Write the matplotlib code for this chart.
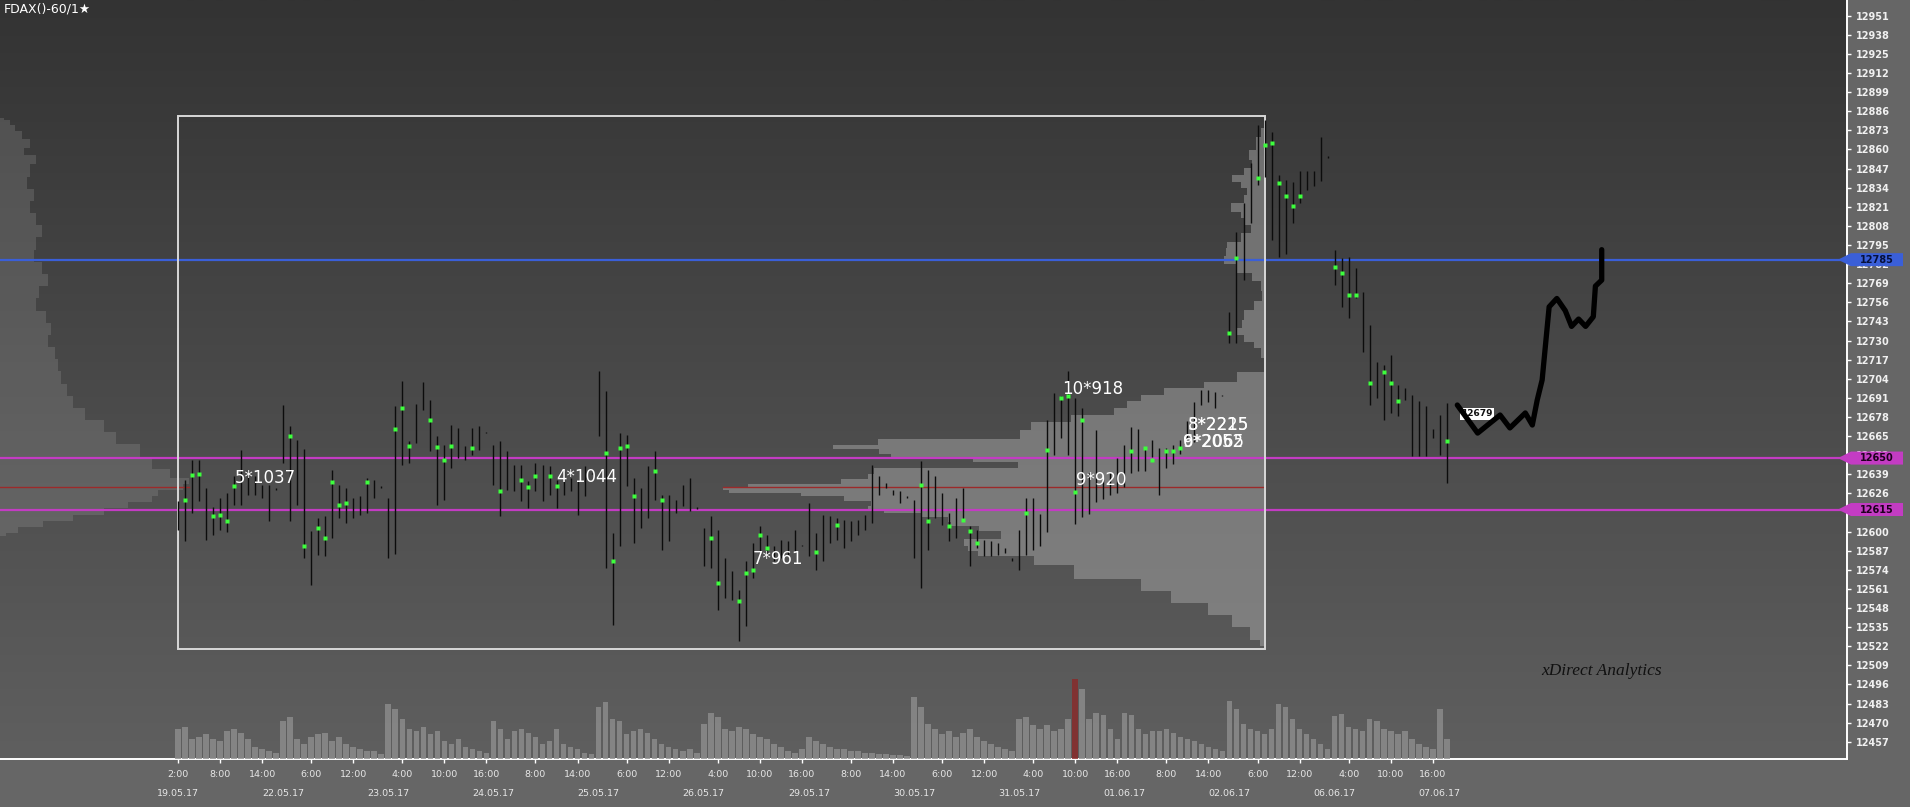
import numpy as np
import matplotlib
matplotlib.use("Agg")
import matplotlib.pyplot as plt
import matplotlib.transforms as mtrans
from matplotlib.colors import LinearSegmentedColormap
from matplotlib.patches import Polygon, Rectangle

# --- hourly bars, 15 per session (2:00 .. 16:00) ---
highs = [
    12620.5, 12635.3, 12648.4, 12648.4, 12629.6, 12616.7, 12622.8, 12626.2, 12637.6, 12655.7, 12638.7, 12637.6, 12631.9, 12631.9, 12629.6,
    12686.3, 12671.6, 12662.5, 12656.4, 12600.1, 12609.2, 12610.3, 12642.1, 12631.9, 12629.6, 12622.8, 12623.9, 12636.4, 12635.3, 12630.8,
    12622.8, 12685.2, 12702.6, 12661.4, 12686.8, 12701.7, 12689.7, 12664.8, 12659.1, 12672.3, 12670.4, 12658.0, 12670.4, 12671.6, 12667.7,
    12658.7, 12661.4, 12654.6, 12645.5, 12645.5, 12634.2, 12646.6, 12645.5, 12644.4, 12635.3, 12641.0, 12636.4, 12634.2, 12644.4, 12640.0,
    12709.5, 12695.4, 12599.0, 12667.0, 12665.9, 12636.4, 12629.6, 12644.4, 12654.6, 12625.1, 12625.1, 12621.7, 12631.9, 12636.4, 12616.5,
    12602.4, 12610.3, 12601.3, 12582.0, 12572.9, 12560.4, 12579.7, 12592.2, 12603.5, 12597.9, 12589.9, 12594.5, 12593.3, 12601.3, 12591.0,
    12619.4, 12599.0, 12611.5, 12610.3, 12609.2, 12608.1, 12607.4, 12608.1, 12611.5, 12645.5, 12637.6, 12633.0, 12628.5, 12627.4, 12624.0,
    12621.7, 12647.8, 12642.1, 12637.6, 12626.2, 12612.6, 12622.8, 12629.6, 12603.5, 12601.3, 12594.5, 12593.3, 12592.2, 12588.8, 12582.0,
    12601.3, 12622.8, 12622.8, 12612.0, 12676.0, 12694.0, 12692.0, 12709.0, 12691.0, 12684.0, 12640.0, 12669.0, 12638.0, 12640.0, 12650.0,
    12659.0, 12671.0, 12670.0, 12657.0, 12662.0, 12657.0, 12657.0, 12659.0, 12662.0, 12675.0, 12688.0, 12696.0, 12696.0, 12695.0, 12693.0,
    12749.6, 12804.0, 12823.5, 12850.8, 12876.6, 12880.0, 12872.0, 12842.6, 12839.0, 12838.0, 12845.0, 12845.0, 12845.0, 12868.8, 12855.5,
    12791.7, 12786.0, 12787.1, 12779.2, 12763.3, 12740.6, 12715.7, 12713.4, 12720.2, 12699.8, 12697.6, 12693.0, 12688.5, 12685.1, 12670.0,
    12679.4, 12687.4,
]
lows = [
    12601.3, 12593.3, 12612.6, 12620.5, 12594.5, 12597.9, 12601.3, 12599.7, 12618.3, 12618.3, 12625.1, 12625.1, 12622.8, 12607.4, 12628.5,
    12646.6, 12607.0, 12618.3, 12582.0, 12563.8, 12584.3, 12583.1, 12595.6, 12609.2, 12605.8, 12609.2, 12611.5, 12612.6, 12622.8, 12629.6,
    12582.0, 12584.7, 12645.5, 12646.6, 12660.2, 12682.9, 12654.6, 12618.3, 12621.7, 12643.2, 12650.0, 12648.9, 12652.3, 12655.7, 12666.8,
    12631.4, 12610.3, 12628.5, 12627.4, 12620.5, 12616.0, 12627.4, 12620.5, 12625.1, 12616.0, 12625.1, 12627.4, 12611.5, 12624.0, 12639.0,
    12664.8, 12575.2, 12536.6, 12589.9, 12630.8, 12592.2, 12602.4, 12609.2, 12621.7, 12587.7, 12593.3, 12612.6, 12617.1, 12613.7, 12615.5,
    12576.3, 12575.2, 12546.8, 12554.8, 12553.6, 12525.3, 12535.5, 12568.4, 12584.3, 12583.1, 12579.7, 12582.0, 12584.3, 12586.5, 12590.0,
    12583.1, 12574.1, 12579.7, 12592.2, 12594.5, 12588.8, 12593.3, 12597.9, 12601.3, 12605.8, 12625.1, 12629.6, 12625.1, 12619.4, 12622.8,
    12582.0, 12561.6, 12587.7, 12609.2, 12604.7, 12593.3, 12595.6, 12607.0, 12576.3, 12588.8, 12583.1, 12583.1, 12584.3, 12585.4, 12579.7,
    12574.1, 12584.3, 12587.7, 12590.0, 12600.0, 12652.0, 12664.0, 12652.0, 12605.0, 12610.0, 12612.0, 12620.0, 12622.0, 12625.0, 12626.0,
    12630.0, 12640.0, 12641.0, 12641.0, 12651.0, 12625.0, 12643.0, 12646.0, 12653.0, 12664.0, 12661.0, 12686.0, 12688.0, 12684.0, 12692.0,
    12728.0, 12728.0, 12771.0, 12809.9, 12835.7, 12841.5, 12798.4, 12787.0, 12789.0, 12810.0, 12823.4, 12832.5, 12834.8, 12838.2, 12854.5,
    12767.9, 12753.1, 12745.2, 12758.8, 12722.5, 12686.2, 12690.8, 12676.0, 12680.5, 12678.3, 12689.6, 12651.1, 12651.1, 12651.1, 12664.0,
    12652.2, 12633.0,
]

# price of the largest cluster inside a bar (green marks)
poc_bar = [1, 2, 3, 5, 6, 7, 8, 16, 18, 20, 21, 22, 23, 24, 27, 31, 32, 33, 36, 37, 38, 39, 42, 46, 49, 50, 51, 53, 54,
           61, 62, 63, 64, 65, 68, 69, 76, 77, 80, 81, 82, 83, 84, 91, 94, 106, 107, 110, 112, 113, 114, 121,
           124, 126, 127, 128, 129, 136, 138, 139, 141, 142, 143, 150, 151, 154, 155, 156, 157, 158, 159, 160,
           165, 166, 167, 168, 170, 172, 173, 174, 181]
poc_price = [12621.7, 12638.7, 12639.0, 12610.3, 12611.5, 12607.0, 12630.8, 12664.8, 12590.0, 12602.4, 12595.6, 12634.0,
             12618.3, 12619.4, 12634.0, 12670.0, 12684.0, 12658.0, 12676.0, 12657.3, 12648.9, 12658.0, 12656.8, 12627.4,
             12635.3, 12630.1, 12637.6, 12637.6, 12630.8,
             12653.4, 12579.7, 12656.8, 12658.0, 12624.0, 12641.0, 12621.7, 12595.6, 12565.0, 12552.5, 12571.8, 12574.1,
             12597.9, 12588.8, 12586.0, 12604.7, 12631.9, 12607.0, 12603.5, 12608.1, 12600.1, 12592.2, 12612.6,
             12655.6, 12690.8, 12691.9, 12627.2, 12676.0, 12654.5, 12656.7, 12648.8, 12654.5, 12654.5, 12656.7,
             12735.0, 12786.0, 12840.4, 12863.1, 12864.3, 12837.0, 12828.0, 12821.2, 12828.0,
             12780.3, 12775.8, 12761.0, 12761.0, 12701.0, 12708.9, 12701.0, 12688.5, 12661.3]

# hourly volume (hundreds of contracts)
volume = [
    30, 32, 20, 22, 25, 20, 18, 28, 30, 26, 20, 12, 10, 8, 6,
    38, 42, 20, 15, 22, 25, 26, 18, 22, 15, 12, 10, 8, 8, 5,
    55, 50, 40, 30, 28, 32, 25, 28, 18, 15, 20, 12, 10, 8, 6,
    38, 30, 20, 28, 30, 26, 22, 15, 18, 30, 15, 12, 10, 6, 5,
    52, 57, 40, 38, 25, 28, 30, 26, 20, 15, 12, 10, 8, 10, 6,
    35, 46, 42, 30, 28, 32, 30, 25, 22, 20, 15, 12, 8, 6, 10,
    22, 18, 15, 12, 10, 10, 8, 8, 6, 6, 5, 5, 4, 4, 3,
    62, 52, 35, 30, 25, 28, 22, 26, 30, 22, 18, 15, 12, 10, 8,
    40, 42, 34, 30, 34, 28, 30, 40, 80, 70, 40, 46, 44, 30, 20,
    46, 44, 30, 25, 28, 28, 30, 26, 22, 20, 18, 15, 12, 10, 8,
    58, 50, 35, 30, 28, 25, 30, 55, 52, 40, 30, 25, 20, 15, 10,
    43, 45, 32, 30, 28, 40, 38, 30, 28, 25, 28, 20, 15, 12, 10,
    50, 20,
]
volume_spike_bar = 128

# --- volume profile of the boxed range ---
box_first_bar, box_last_bar = 0, 155
box_low, box_high = 12520.1, 12882.8
prof_price = [12874.5, 12863.1, 12856.3, 12849.5, 12845.0, 12840.4, 12835.9, 12831.4, 12826.8, 12820.0, 12815.5,
              12811.0, 12806.4, 12799.6, 12795.1, 12790.5, 12784.9, 12779.2, 12772.4, 12767.9, 12758.8, 12754.3,
              12747.5, 12740.6, 12736.1, 12731.6, 12727.0, 12722.5, 12713.4, 12704.4, 12699.8, 12695.3, 12690.8,
              12686.2, 12681.7, 12677.1, 12672.6, 12665.9, 12660.2, 12658.0, 12654.6, 12651.2, 12648.9, 12645.5,
              12641.0, 12637.6, 12634.2, 12630.8, 12629.6, 12627.4, 12625.1, 12622.8, 12619.4, 12616.0, 12613.7,
              12611.5, 12608.1, 12604.7, 12602.4, 12597.9, 12592.2, 12588.8, 12584.3, 12582.0, 12572.0, 12564.0,
              12555.6, 12547.0, 12539.0, 12531.0, 12522.0]
prof_vol = [4, 9, 16, 13, 21, 33, 24, 18, 21, 34, 24, 21, 14, 24, 38, 39, 41, 28, 13, 4, 3, 11, 21, 23, 28, 21, 11,
            4, 1, 28, 61, 101, 124, 138, 151, 194, 234, 245, 387, 432, 386, 374, 292, 247, 391, 397, 424, 517, 542,
            536, 464, 421, 394, 397, 381, 344, 317, 314, 286, 264, 301, 297, 287, 231, 191, 124, 94, 57, 33, 15, 5]
poc_level = 12630.5

# --- volume profile of the whole history (left edge) ---
hist_price = [12881.3, 12878.8, 12874.7, 12870.5, 12863.9, 12858.1, 12854.0, 12845.7, 12837.4, 12829.1, 12820.8,
              12812.5, 12804.2, 12796.0, 12787.7, 12779.4, 12771.1, 12762.8, 12754.5, 12746.2, 12738.0, 12729.7,
              12721.4, 12713.1, 12704.8, 12696.5, 12688.2, 12680.0, 12671.7, 12663.4, 12655.1, 12646.8, 12638.5,
              12634.4, 12630.2, 12626.1, 12621.9, 12617.8, 12613.6, 12609.5, 12605.4, 12601.2, 12597.1]
hist_vol = [4, 10, 15, 22, 30, 24, 36, 30, 27, 34, 30, 36, 42, 36, 34, 42, 48, 39, 36, 46, 51, 48, 55, 58, 61, 67,
            73, 85, 104, 116, 140, 152, 170, 189, 183, 158, 152, 128, 104, 73, 43, 18, 6]

# --- key levels ---
levels = [12785, 12650, 12615]
level_colors = ['#3a5fd8', '#c33cc3', '#c33cc3']
level_text_colors = ['#06103a', '#1e001e', '#1e001e']

# --- cluster annotations: bar, price, text ---
note_bar = [8.1, 54.0, 82.0, 126.1, 128.1, 144.1, 144.1, 143.3, 143.3]
note_price = [12636.4, 12637.0, 12581.3, 12697.0, 12635.0, 12672.5, 12672.5, 12661.0, 12661.0]
note_text = ['5*1037', '4*1044', '7*961', '10*918', '9*920', '8*2225', '3*2215', '6*2052', '9*2065']

# --- projected path ---
fc_bar = [182.5, 185.4, 188.6, 190.0, 192.2, 193.2, 193.9, 194.6, 195.6, 196.7, 197.9, 198.8, 199.8, 200.8, 201.9,
          202.2, 203.1, 203.1]
fc_price = [12686.1, 12667.0, 12679.3, 12670.5, 12680.7, 12672.5, 12689.5, 12703.1, 12752.9, 12758.6, 12750.3,
            12739.6, 12744.6, 12739.6, 12746.2, 12767.0, 12771.1, 12791.8]
fc_tag_price = 12679

# --- axis labels ---
bars_per_day = 15
first_hour = 2
day_labels = ['19.05.17', '22.05.17', '23.05.17', '24.05.17', '25.05.17', '26.05.17', '29.05.17', '30.05.17',
              '31.05.17', '01.06.17', '02.06.17', '06.06.17', '07.06.17']
tick_day = [0, 0, 0, 1, 1, 2, 2, 2, 3, 3, 4, 4, 5, 5, 5, 6, 6, 7, 7, 8, 8, 8, 9, 9, 10, 10, 11, 11, 11]
tick_hour = [2, 8, 14, 6, 12, 4, 10, 16, 8, 14, 6, 12, 4, 10, 16, 8, 14, 6, 12, 4, 10, 16, 8, 14, 6, 12, 4, 10, 16]
price_ticks = np.arange(12457, 12952, 13)

W, H = 1910, 807
fig = plt.figure(figsize=(W / 100, H / 100), dpi=100, facecolor='#666666')
ax = fig.add_axes([0, 48 / H, 1847 / W, 759 / H])
ax.set_xlim(-25.39, 238.09)
ax.set_ylim(12445.25, 12961.68)
px = 7.01  # pixels per bar

# background gradient
grad = np.linspace(0, 1, 256).reshape(-1, 1)
cmap = LinearSegmentedColormap.from_list('bg', ['#5f5f5f', '#333333'])
ax.imshow(grad, extent=[0, 1, 0, 1], transform=ax.transAxes, cmap=cmap, aspect='auto', origin='lower', zorder=0)

# history profile on the left
x0 = ax.get_xlim()[0]
hw = np.array(hist_vol) / px
ax.fill_betweenx(hist_price, x0, x0 + hw, step='mid', color='#a8a8a8', alpha=0.22, lw=0, zorder=1)
ax.plot([x0, x0 + max(hw)], [poc_level, poc_level], color='#9c2a2a', lw=1, zorder=2)

# boxed range and its profile
pw = np.array(prof_vol) / px
ax.fill_betweenx(prof_price, box_last_bar - pw, box_last_bar, step='mid', color='#b0b0b0', alpha=0.45, lw=0, zorder=1)
ax.plot([box_last_bar - max(pw), box_last_bar], [poc_level, poc_level], color='#9c2a2a', lw=1, zorder=2)
ax.add_patch(Rectangle((box_first_bar, box_low), box_last_bar - box_first_bar, box_high - box_low,
                       fill=False, ec='#d8d8d8', lw=1.4, zorder=3))

# key levels
for lv, c in zip(levels, level_colors):
    ax.axhline(lv, color=c, lw=1.6, zorder=2)

# bars
idx = np.arange(len(highs))
ax.vlines(idx, lows, highs, color='#0c0c0c', lw=1.0, zorder=4)
ax.plot(poc_bar, poc_price, 's', ms=3.0, color='#3dff3d', mec='none', zorder=5)

for b, p, t in zip(note_bar, note_price, note_text):
    ax.text(b, p, t, color='white', fontsize=12, ha='left', va='center', zorder=6)

# projection
ax.text(fc_bar[0] + 0.6, fc_tag_price + 1, '12679', fontsize=6.5, fontweight='bold', color='#111111', ha='left',
        va='center', zorder=6, bbox=dict(boxstyle='square,pad=0.15', fc='white', ec='none'))
ax.plot(fc_bar, fc_price, color='black', lw=3.8, solid_joinstyle='round', solid_capstyle='round', zorder=7)
ax.text(194.4, 12505.1, 'xDirect Analytics', family='Liberation Serif', style='italic', fontsize=12.5,
        color='#111111', ha='left', va='center', zorder=6)

# volume panel
vax = fig.add_axes([0, 48 / H, 1847 / W, 100 / H], sharex=ax)
vax.patch.set_alpha(0)
vcol = ['#8a2828' if i == volume_spike_bar else '#8e8e8e' for i in idx]
vax.bar(idx, volume, width=0.8, color=vcol, alpha=0.8, lw=0)
vax.set_ylim(0, 100)
vax.axis('off')
ax.set_xlim(-25.39, 238.09)

# axes styling
for s in ['top', 'left']:
    ax.spines[s].set_visible(False)
for s in ['bottom', 'right']:
    ax.spines[s].set_color('white')
    ax.spines[s].set_linewidth(1.4)
ax.yaxis.tick_right()
ax.set_yticks(price_ticks)
ax.set_yticklabels([str(v) for v in price_ticks])
ax.tick_params(axis='y', direction='out', length=3, width=1, colors='white', labelcolor='#f0f0f0',
               labelsize=7, pad=3.6)
for lbl in ax.get_yticklabels():
    lbl.set_fontweight('bold')

tick_pos = [d * bars_per_day + h - first_hour for d, h in zip(tick_day, tick_hour)]
ax.set_xticks(tick_pos)
ax.set_xticklabels(['%d:00' % h for h in tick_hour])
ax.tick_params(axis='x', direction='out', length=3, width=1, colors='white', labelcolor='#e6e6e6',
               labelsize=6.8, pad=5)
trans = mtrans.blended_transform_factory(ax.transData, ax.transAxes)
for d, lab in enumerate(day_labels):
    ax.text(d * bars_per_day, -0.0448, lab, transform=trans, fontsize=6.8, color='#e6e6e6',
            ha='center', va='center', clip_on=False)

# level tags on the price scale
tag_trans = mtrans.blended_transform_factory(fig.transFigure, ax.transData)
hh = 6.5 / 1.4697
for lv, c, tc in zip(levels, level_colors, level_text_colors):
    pts = [(1838 / W, lv), (1851 / W, lv + hh), (1903 / W, lv + hh), (1903 / W, lv - hh), (1851 / W, lv - hh)]
    ax.add_patch(Polygon(pts, closed=True, transform=tag_trans, fc=c, ec='none', clip_on=False, zorder=10))
    ax.text(1877 / W, lv, str(lv), transform=tag_trans, fontsize=7, fontweight='bold', color=tc,
            ha='center', va='center', clip_on=False, zorder=11)

fig.text(4 / W, 1 - 9 / H, 'FDAX()-60/1\u2605', fontsize=9, color='white', ha='left', va='center')

fig.savefig('out.png', dpi=100, facecolor=fig.get_facecolor())
